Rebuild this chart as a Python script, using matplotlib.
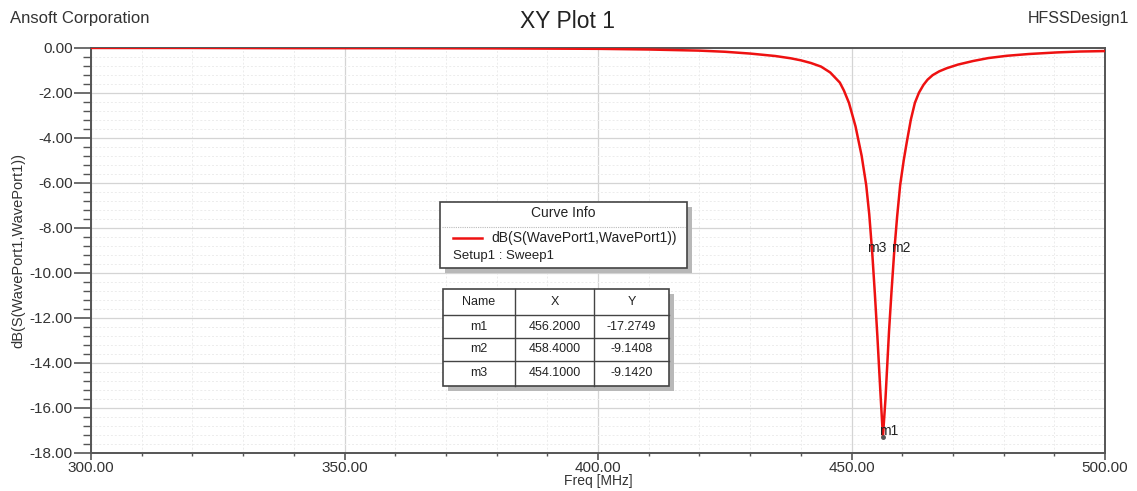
import matplotlib
matplotlib.use('Agg')
import matplotlib.pyplot as plt
from matplotlib.patches import Rectangle
from matplotlib.ticker import MultipleLocator, FormatStrFormatter

plt.rcParams['font.family'] = ['Liberation Sans', 'DejaVu Sans']

# S11 sweep, read point by point (MHz, dB)
freq = [300, 320, 340, 360, 380, 400, 410, 420, 425, 430, 435, 438, 440, 442,
        444, 445.8, 447.7, 448.5, 449.5, 450.8, 452, 452.9, 453.5, 454.1, 454.6,
        455.1, 455.7, 456.2, 456.7, 457.4, 457.9, 458.4, 459, 459.6, 460.3,
        460.9, 461.7, 462.5, 463.3, 464.2, 465, 466, 467.3, 468.8, 471, 474,
        477, 480.6, 485, 490.5, 495, 500]
s11_db = [-0.01, -0.01, -0.02, -0.02, -0.03, -0.05, -0.08, -0.13, -0.18, -0.26,
          -0.37, -0.47, -0.56, -0.68, -0.84, -1.1, -1.55, -1.9, -2.45, -3.5,
          -4.8, -6.1, -7.4, -9.142, -10.9, -12.8, -15.3, -17.2749, -15.6,
          -12.6, -10.8, -9.1408, -7.5, -6.1, -5.0, -4.2, -3.2, -2.45, -2.0,
          -1.65, -1.42, -1.22, -1.05, -0.91, -0.75, -0.59, -0.46, -0.36, -0.28,
          -0.21, -0.17, -0.15]

# markers
mk_names = ['m1', 'm2', 'm3']
mk_x = [456.2, 458.4, 454.1]
mk_y = [-17.2749, -9.1408, -9.1420]

W, H = 1137, 491
fig = plt.figure(figsize=(W / 100, H / 100), dpi=100)


def px(x0, y0, x1, y1):
    # pixel box (top-left origin) -> figure fraction rect
    return [x0 / W, 1 - y1 / H, (x1 - x0) / W, (y1 - y0) / H]


ax = fig.add_axes(px(91, 47.7, 1105, 453))
ax.plot(freq, s11_db, color='#ee1111', lw=1.8, zorder=3)
ax.set_xlim(300, 500)
ax.set_ylim(-18, 0)

ax.xaxis.set_major_locator(MultipleLocator(50))
ax.xaxis.set_minor_locator(MultipleLocator(10))
ax.yaxis.set_major_locator(MultipleLocator(2))
ax.yaxis.set_minor_locator(MultipleLocator(0.4))
ax.xaxis.set_major_formatter(FormatStrFormatter('%.2f'))
ax.yaxis.set_major_formatter(FormatStrFormatter('%.2f'))
ax.grid(which='major', color='#d4d4d4', lw=0.9)
ax.grid(which='minor', color='#ececec', lw=0.7, ls=(0, (2, 2)))
ax.set_axisbelow(True)
ax.tick_params(axis='y', which='major', direction='out', length=12, width=1.2,
               color='#555555', labelsize=11, labelcolor='#333333', pad=1)
ax.tick_params(axis='y', which='minor', direction='out', length=6, width=1.0,
               color='#555555')
ax.tick_params(axis='x', which='major', direction='out', length=5, width=1.2,
               color='#555555', labelsize=11, labelcolor='#333333', pad=1)
ax.tick_params(axis='x', which='minor', direction='out', length=2, width=1.0,
               color='#555555')
for s in ax.spines.values():
    s.set_color('#555555')
    s.set_linewidth(1.4)

ax.set_xlabel('Freq [MHz]', fontsize=10, color='#333333', labelpad=-1)
ax.set_ylabel('dB(S(WavePort1,WavePort1))', fontsize=10.5, color='#333333',
              labelpad=3)

# marker labels
for n, x, y in zip(mk_names, mk_x, mk_y):
    dx = -4 if n == 'm3' else -2.5
    ax.annotate(n, (x, y), xytext=(dx, 4), textcoords='offset points',
                fontsize=10, color='#222222', va='center', ha='left',
                zorder=5)
ax.plot([mk_x[0]], [mk_y[0]], marker='o', ms=2.5, color='#555555', zorder=4)

fig.text(10 / W, 1 - 19 / H, 'Ansoft Corporation', fontsize=12,
         color='#333333', va='center', ha='left')
fig.text(568 / W, 1 - 21 / H, 'XY Plot 1', fontsize=16.5, color='#222222',
         va='center', ha='center')
fig.text(1129 / W, 1 - 19 / H, 'HFSSDesign1', fontsize=11.5, color='#333333',
         va='center', ha='right')

# overlay in pixel units for the info boxes
ov = fig.add_axes([0, 0, 1, 1], zorder=10)
ov.set_xlim(0, W)
ov.set_ylim(H, 0)
ov.axis('off')
ov.patch.set_alpha(0)


def box(x0, y0, x1, y1):
    ov.add_patch(Rectangle((x0 + 5, y0 + 5), x1 - x0, y1 - y0,
                           facecolor='#b8b8b8', edgecolor='none'))
    ov.add_patch(Rectangle((x0, y0), x1 - x0, y1 - y0, facecolor='white',
                           edgecolor='#444444', lw=1.2))


# curve info
box(440, 202, 687, 268)
ov.text(563, 213, 'Curve Info', fontsize=10, ha='center', va='center',
        color='#222222')
ov.plot([442, 685], [227, 227], color='#bbbbbb', lw=0.8, ls=(0, (1, 1)))
ov.plot([453, 482], [238, 238], color='#ee1111', lw=1.8)
ov.text(491, 238, 'dB(S(WavePort1,WavePort1))', fontsize=10, ha='left',
        va='center', color='#222222')
ov.text(453, 256, 'Setup1 : Sweep1', fontsize=9.5, ha='left', va='center',
        color='#222222')

# marker table
cols = [443, 515, 594, 669]
rows = [289, 315, 338, 361, 386]
box(cols[0], rows[0], cols[-1], rows[-1])
for c in cols[1:-1]:
    ov.plot([c, c], [rows[0], rows[-1]], color='#444444', lw=1.0)
for r in rows[1:-1]:
    ov.plot([cols[0], cols[-1]], [r, r], color='#444444', lw=1.0)
cells = [['Name', 'X', 'Y']]
for n, x, y in zip(mk_names, mk_x, mk_y):
    cells.append([n, f'{x:.4f}', f'{y:.4f}'])
for i, row in enumerate(cells):
    yc = (rows[i] + rows[i + 1]) / 2
    for j, t in enumerate(row):
        xc = (cols[j] + cols[j + 1]) / 2
        ov.text(xc, yc, t, fontsize=9, ha='center', va='center',
                color='#222222')

fig.savefig('out.png', dpi=100)
